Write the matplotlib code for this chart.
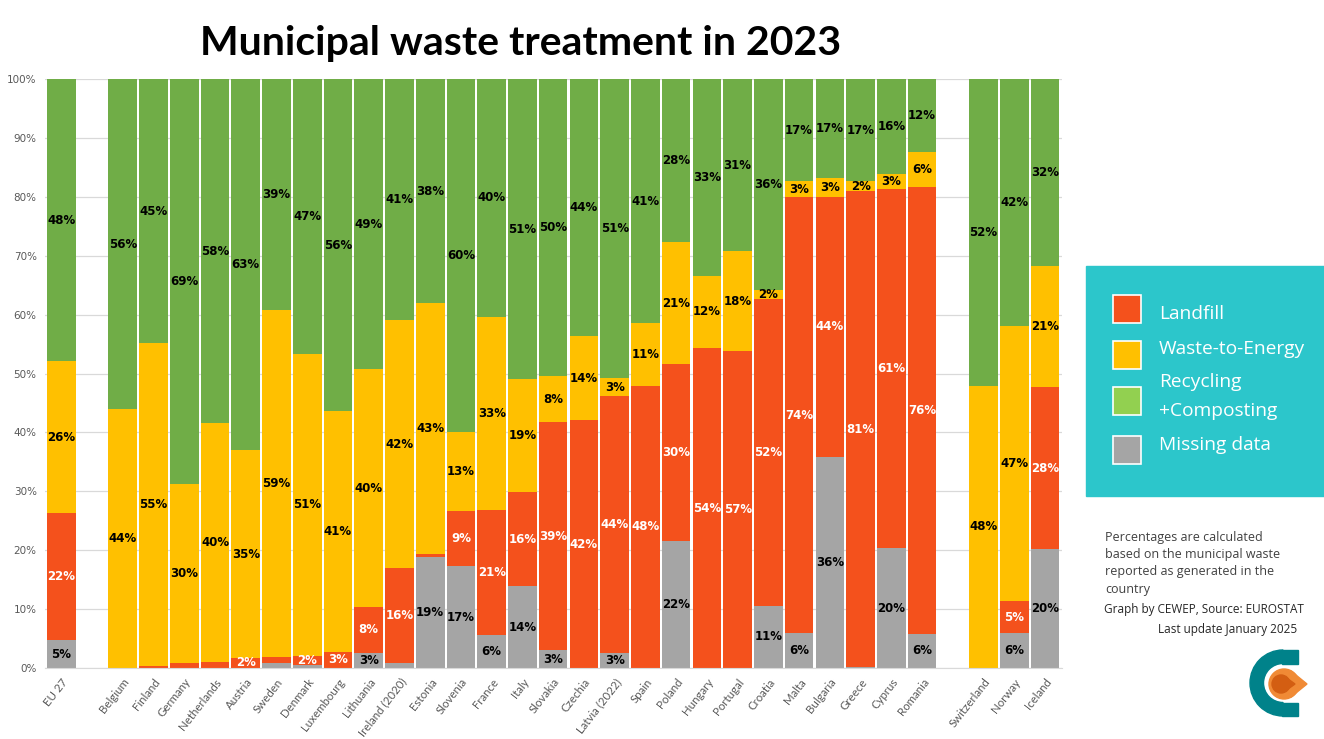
import numpy as np
import matplotlib
matplotlib.use("Agg")
import matplotlib.pyplot as plt
from matplotlib.patches import Rectangle, Wedge, Circle, Polygon

# data (percent of generated municipal waste), None = gap slot
countries = ["EU 27", None, "Belgium", "Finland", "Germany", "Netherlands", "Austria",
             "Sweden", "Denmark", "Luxembourg", "Lithuania", "Ireland (2020)", "Estonia",
             "Slovenia", "France", "Italy", "Slovakia", "Czechia", "Latvia (2022)", "Spain",
             "Poland", "Hungary", "Portugal", "Croatia", "Malta", "Bulgaria", "Greece",
             "Cyprus", "Romania", None, "Switzerland", "Norway", "Iceland"]
missing = [4.7, 0, 0.0, 0.0, 0.0, 0.0, 0.0,
           0.8, 0.5, 0.0, 2.6, 0.8, 18.8,
           17.3, 5.6, 13.9, 3.0, 0.0, 2.6, 0.0,
           21.6, 0.0, 0.0, 10.6, 5.9, 35.8, 0.2,
           20.3, 5.8, 0, 0.0, 5.9, 20.2]
landfill = [21.6, 0, 0.0, 0.3, 0.8, 1.1, 1.7,
            1.0, 1.6, 2.8, 7.8, 16.1, 0.5,
            9.3, 21.2, 15.9, 38.7, 42.1, 43.6, 47.9,
            30.0, 54.3, 57.0, 52.0, 74.0, 44.2, 80.7,
            61.0, 75.9, 0, 0.0, 5.4, 27.5]
wte = [25.8, 0, 43.9, 54.8, 30.4, 40.4, 35.3,
       59.0, 51.2, 40.8, 40.3, 42.1, 42.6,
       13.4, 32.8, 19.2, 7.9, 14.2, 3.0, 10.6,
       20.7, 12.3, 18.0, 1.5, 2.7, 3.2, 1.7,
       2.6, 5.9, 0, 47.9, 46.7, 20.6]
recycling = [47.9, 0, 56.1, 44.9, 68.8, 58.4, 63.0,
             39.2, 46.7, 56.4, 49.3, 41.0, 38.1,
             60.0, 40.4, 51.0, 50.4, 43.7, 50.8, 41.4,
             27.7, 33.4, 31.0, 35.9, 17.4, 16.8, 17.4,
             16.1, 12.4, 0, 52.1, 41.9, 31.7]

series = [("Missing data", missing, "#A5A5A5", "black"),
          ("Landfill", landfill, "#F4511C", "white"),
          ("Waste-to-Energy", wte, "#FFC000", "black"),
          ("Recycling +Composting", recycling, "#70AD47", "black")]

W, H = 1324, 739
fig = plt.figure(figsize=(W / 100, H / 100), dpi=100, facecolor="white")
ax = fig.add_axes([45 / W, 1 - 668 / H, 1017 / W, 589 / H])

x = np.arange(len(countries))
totals = np.array(missing) + np.array(landfill) + np.array(wte) + np.array(recycling)
totals[totals == 0] = 1
bottom = np.zeros(len(countries))
for name, vals, col, tcol in series:
    v = np.array(vals, dtype=float)
    h = v / totals * 100
    ax.bar(x, h, 0.93, bottom=bottom, color=col, edgecolor="none", zorder=2)
    for i in range(len(x)):
        pct = int(v[i] + 0.5)
        if countries[i] is None or pct < 2:
            continue
        ax.text(x[i], bottom[i] + h[i] / 2, f"{pct}%", ha="center", va="center",
                fontsize=8.5, fontweight="bold", color=tcol, family="DejaVu Sans", zorder=3)
    bottom += h

ax.set_xlim(-0.53, len(countries) - 0.45)
ax.set_ylim(0, 100)
ax.set_yticks(np.arange(0, 101, 10))
ax.set_yticklabels([f"{t}%" for t in range(0, 101, 10)], fontsize=7.5, color="#595959")
ax.yaxis.grid(True, color="#D9D9D9", linewidth=0.9, zorder=0)
ax.set_axisbelow(True)
ticks = [i for i, c in enumerate(countries) if c is not None]
ax.set_xticks(ticks)
ax.set_xticklabels([countries[i] for i in ticks], rotation=52, ha="right",
                   rotation_mode="anchor", fontsize=8.3, color="#595959", family="Lato")
ax.tick_params(axis="both", length=0, pad=6)
for s in ["top", "right", "left"]:
    ax.spines[s].set_visible(False)
ax.spines["bottom"].set_color("#D9D9D9")

fig.text(521 / W, 1 - 43 / H, "Municipal waste treatment in 2023", ha="center", va="center",
         fontsize=29.5, fontweight="bold", family="Lato")

# legend box
fig.patches.append(Rectangle((1086 / W, 1 - 496 / H), 238 / W, 230 / H,
                             transform=fig.transFigure, color="#2CC6CB", zorder=0))
legend_items = [("#F4511C", 295, [("Landfill", 314)]),
                ("#FFC000", 341, [("Waste-to-Energy", 349)]),
                ("#92D050", 387, [("Recycling", 382), ("+Composting", 411)]),
                ("#A5A5A5", 436, [("Missing data", 445)])]
for col, ytop, labels in legend_items:
    fig.patches.append(Rectangle((1113 / W, 1 - (ytop + 28) / H), 28 / W, 28 / H,
                                 transform=fig.transFigure, facecolor=col,
                                 edgecolor="white", linewidth=1.2))
    for txt, yc in labels:
        fig.text(1159 / W, 1 - yc / H, txt, ha="left", va="center", fontsize=13.8,
                 color="white", family="Open Sans")

note = ["Percentages are calculated", "based on the municipal waste",
        "reported as generated in the", "country"]
for k, line in enumerate(note):
    fig.text(1105 / W, 1 - (537 + k * 17.5) / H, line, ha="left", va="center",
             fontsize=9, color="#404040", family="Open Sans")
fig.text(1104 / W, 1 - 609 / H, "Graph by CEWEP, Source: EUROSTAT", ha="left", va="center",
         fontsize=8.5, color="#262626", family="Open Sans")
fig.text(1297 / W, 1 - 629 / H, "Last update January 2025", ha="right", va="center",
         fontsize=8.5, color="#262626", family="Open Sans")

# logo
lax = fig.add_axes([1240 / W, 1 - 722 / H, 75 / W, 77 / H])
lax.set_xlim(1240, 1315)
lax.set_ylim(722, 645)
lax.axis("off")
teal = "#00828A"
lax.add_patch(Wedge((1283, 683), 33, 90, 270, width=13.5, color=teal))
lax.add_patch(Rectangle((1282, 650), 16, 13.5, color=teal))
lax.add_patch(Rectangle((1282, 702.5), 16, 13.5, color=teal))
lax.add_patch(Circle((1284, 684), 15, color="#F08A35"))
lax.add_patch(Polygon([(1291, 671), (1307, 684), (1291, 697)], color="#F08A35"))
lax.add_patch(Circle((1281, 684), 9, color="#D35E12"))
lax.add_patch(Polygon([(1284, 676), (1295, 684), (1284, 692)], color="#D35E12"))

fig.savefig("out.png", dpi=100, facecolor="white")
